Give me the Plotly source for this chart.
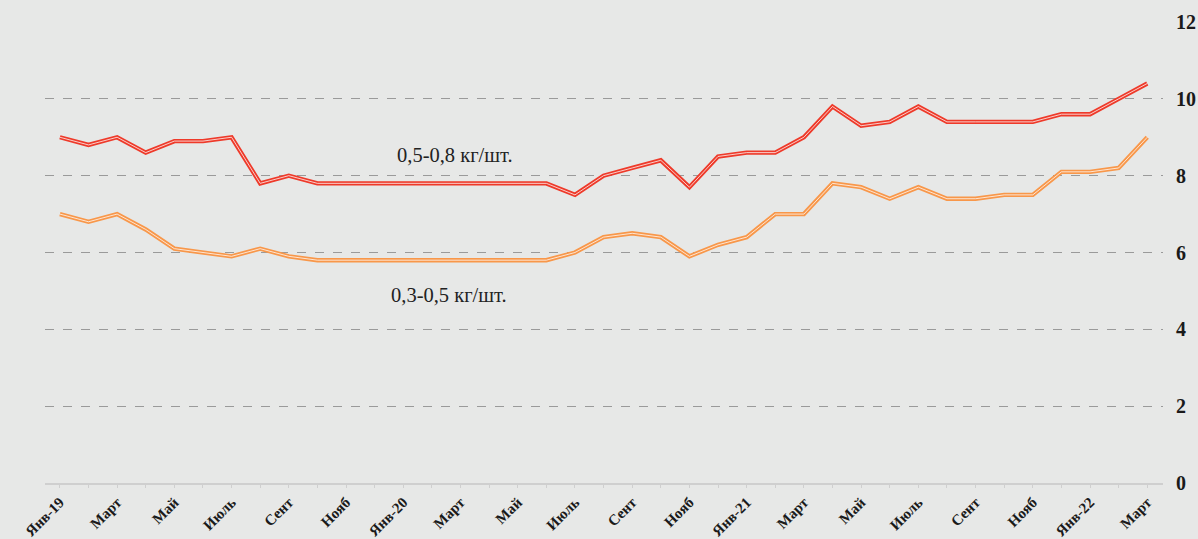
import plotly.graph_objects as go

months = ["Янв-19", "", "Март", "", "Май", "", "Июль", "", "Сент", "", "Нояб", "",
          "Янв-20", "", "Март", "", "Май", "", "Июль", "", "Сент", "", "Нояб", "",
          "Янв-21", "", "Март", "", "Май", "", "Июль", "", "Сент", "", "Нояб", "",
          "Янв-22", "", "Март"]

large = [9.0, 8.8, 9.0, 8.6, 8.9, 8.9, 9.0, 7.8, 8.0, 7.8, 7.8, 7.8,
         7.8, 7.8, 7.8, 7.8, 7.8, 7.8, 7.5, 8.0, 8.2, 8.4, 7.7, 8.5,
         8.6, 8.6, 9.0, 9.8, 9.3, 9.4, 9.8, 9.4, 9.4, 9.4, 9.4, 9.6,
         9.6, 10.0, 10.4]

small = [7.0, 6.8, 7.0, 6.6, 6.1, 6.0, 5.9, 6.1, 5.9, 5.8, 5.8, 5.8,
         5.8, 5.8, 5.8, 5.8, 5.8, 5.8, 6.0, 6.4, 6.5, 6.4, 5.9, 6.2,
         6.4, 7.0, 7.0, 7.8, 7.7, 7.4, 7.7, 7.4, 7.4, 7.5, 7.5, 8.1,
         8.1, 8.2, 9.0]

yticks = [0, 2, 4, 6, 8, 10, 12]

x = list(range(len(months)))

fig = go.Figure()
for vals, col in [(large, "#EE3A2A"), (small, "#F8974A")]:
    fig.add_trace(go.Scatter(x=x, y=vals, mode="lines",
                             line=dict(color=col, width=4.4),
                             hoverinfo="skip", showlegend=False))
    fig.add_trace(go.Scatter(x=x, y=vals, mode="lines",
                             line=dict(color="rgba(255,255,255,0.75)", width=1),
                             hoverinfo="skip", showlegend=False))

fig.add_annotation(x=13.8, y=8.55, text="0,5-0,8 кг/шт.", showarrow=False,
                   font=dict(family="Liberation Serif", size=20.5, color="#222222"))
fig.add_annotation(x=13.6, y=4.9, text="0,3-0,5 кг/шт.", showarrow=False,
                   font=dict(family="Liberation Serif", size=20.5, color="#222222"))

fig.update_layout(
    width=1198, height=539,
    margin=dict(l=45, r=35, t=22, b=56),
    paper_bgcolor="#E7E8E7", plot_bgcolor="#E7E8E7",
    showlegend=False,
)
fig.update_xaxes(
    range=[-0.52, 38.55], automargin=False,
    tickmode="array", tickvals=x, ticktext=months, tickangle=-45,
    ticks="outside", ticklen=3, tickcolor="#CFCFCF", tickwidth=1,
    showline=True, linecolor="#CFCFCF", linewidth=1.5,
    showgrid=False, zeroline=False,
    tickfont=dict(family="Liberation Serif", size=15, color="#1A1A1A", weight="bold"),
)
fig.update_yaxes(
    range=[0, 12], side="right", automargin=False,
    tickmode="array", tickvals=yticks, ticktext=[str(v) for v in yticks],
    showgrid=True, gridcolor="#9A9A9A", griddash="dash", gridwidth=1,
    zeroline=False, ticks="", ticklabelstandoff=12,
    tickfont=dict(family="Liberation Serif", size=20, color="#1A1A1A", weight="bold"),
)
fig.write_html("out.html", config={"displayModeBar": False},
               post_script="document.body.style.margin='0';document.body.style.background='#E7E8E7';")
